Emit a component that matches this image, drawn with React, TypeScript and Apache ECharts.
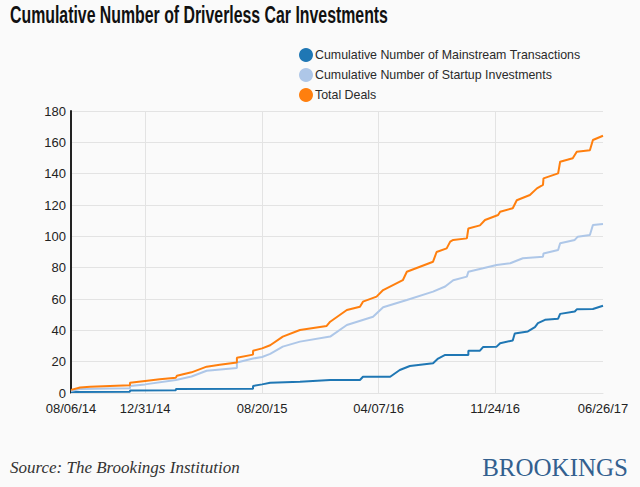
import React, { useEffect, useRef } from "react";
import * as echarts from "echarts";

const title = "Cumulative Number of Driverless Car Investments";
const seriesNames = [
  "Cumulative Number of Mainstream Transactions",
  "Cumulative Number of Startup Investments",
  "Total Deals",
];
const xTickDates = ["2014-08-06", "2014-12-31", "2015-08-20", "2016-04-07", "2016-11-24", "2017-06-26"];
const yTicks = { min: 0, max: 180, interval: 20 };

const mainstreamDates = [
  "2014-08-06", "2014-12-01", "2014-12-01", "2015-03-02", "2015-03-02", "2015-08-02", "2015-08-02",
  "2015-08-20", "2015-09-05", "2015-11-03", "2016-01-02", "2016-03-01", "2016-03-07", "2016-04-30",
  "2016-05-19", "2016-06-08", "2016-07-24", "2016-08-03", "2016-08-17", "2016-10-02", "2016-10-02",
  "2016-10-25", "2016-10-31", "2016-11-27", "2016-12-04", "2016-12-29", "2017-01-02", "2017-01-28",
  "2017-02-11", "2017-02-17", "2017-03-03", "2017-03-29", "2017-04-02", "2017-05-01", "2017-05-05",
  "2017-06-06", "2017-06-26",
];
const mainstreamValues = [
  0.6, 0.8, 1.6, 1.8, 2.5, 2.7, 4.5,
  5.5, 6.5, 7.2, 8.3, 8.3, 10.4, 10.4,
  14.7, 17.2, 19, 22, 24.3, 24.3, 27,
  27, 29.3, 29.6, 31.8, 33.5, 38, 39.3,
  42, 44.6, 46.7, 47.4, 50.5, 52, 53.4,
  53.6, 55.7,
];

const startupDates = [
  "2014-08-06", "2014-08-24", "2014-10-22", "2014-12-01", "2014-12-01", "2014-12-31", "2015-03-02",
  "2015-04-02", "2015-05-02", "2015-07-01", "2015-07-01", "2015-08-02", "2015-08-20", "2015-09-05",
  "2015-09-30", "2015-11-03", "2016-01-02", "2016-02-04", "2016-03-27", "2016-04-16", "2016-06-02",
  "2016-07-24", "2016-08-17", "2016-09-02", "2016-09-29", "2016-10-02", "2016-10-31", "2016-11-27",
  "2016-12-24", "2017-01-18", "2017-02-27", "2017-02-28", "2017-03-29", "2017-04-02", "2017-05-01",
  "2017-05-07", "2017-05-31", "2017-06-06", "2017-06-26",
];
const startupValues = [
  1.3, 2.5, 2.8, 3, 4.5, 5.5, 8.3,
  10.5, 14.2, 16, 19.5, 22, 23, 25,
  29.6, 32.8, 36, 43.4, 48.7, 54.7, 59.4,
  64.7, 68, 72, 74.3, 77.4, 79.6, 81.7,
  82.8, 86, 87, 89.1, 91.3, 95.6, 97.7,
  99.8, 100.9, 107.2, 107.9,
];

const totalDates = [
  "2014-08-06", "2014-08-24", "2014-09-13", "2014-10-22", "2014-12-01", "2014-12-01", "2014-12-31",
  "2015-01-29", "2015-03-02", "2015-03-04", "2015-04-02", "2015-05-02", "2015-05-28", "2015-07-01",
  "2015-07-01", "2015-08-02", "2015-08-02", "2015-08-20", "2015-09-05", "2015-09-30", "2015-11-03",
  "2015-12-26", "2016-01-02", "2016-02-04", "2016-03-01", "2016-03-07", "2016-04-03", "2016-04-16",
  "2016-05-25", "2016-06-02", "2016-06-28", "2016-07-24", "2016-07-31", "2016-08-20", "2016-08-27",
  "2016-09-02", "2016-09-29", "2016-10-02", "2016-10-25", "2016-11-04", "2016-11-30", "2016-12-04",
  "2016-12-29", "2017-01-06", "2017-02-01", "2017-02-15", "2017-02-27", "2017-02-28", "2017-03-29",
  "2017-04-02", "2017-04-27", "2017-05-05", "2017-05-31", "2017-06-06", "2017-06-26",
];
const totalValues = [
  2, 3.5, 4, 4.5, 5, 6.5, 7.7,
  8.8, 9.8, 11, 13.2, 16.8, 18, 19.5,
  22.5, 24.5, 27, 28.5, 30.5, 36, 40.2,
  42.8, 45.5, 53, 55, 58.3, 61.5, 65.7,
  72, 77.4, 80.6, 83.8, 90, 92.3, 96.6,
  97.7, 98.7, 105, 107, 110.4, 113.6, 115.7,
  117.9, 123, 126.4, 130.6, 132.8, 137, 140.2,
  147.6, 149.8, 154, 155, 161.5, 164.2,
];

const colors = ["#1f77b4", "#aec7e8", "#ff7f0e"];

const ts = (s: string) => {
  const [y, m, d] = s.split("-").map(Number);
  return new Date(y, m - 1, d).getTime();
};
const pad = (n: number) => (n < 10 ? "0" + n : "" + n);
const fmt = (v: number) => {
  const d = new Date(v);
  return pad(d.getMonth() + 1) + "/" + pad(d.getDate()) + "/" + pad(d.getFullYear() % 100);
};
const toPairs = (dates: string[], vals: number[]) => dates.map((d, i) => [ts(d), vals[i]]);

const TITLE_FONT = "bold 22px 'Liberation Sans', Arial, sans-serif";

export default function App() {
  const ref = useRef<HTMLDivElement>(null);
  useEffect(() => {
    document.body.style.margin = "0";
    const chart = echarts.init(ref.current!, null, { renderer: "svg" });
    const tickTs = xTickDates.map(ts);
    const seriesData = [
      toPairs(mainstreamDates, mainstreamValues),
      toPairs(startupDates, startupValues),
      toPairs(totalDates, totalValues),
    ];
    let titleScale = 0.78;
    try {
      const ctx = document.createElement("canvas").getContext("2d");
      if (ctx) {
        ctx.font = TITLE_FONT;
        const w = ctx.measureText(title).width;
        if (w > 0) titleScale = 378 / w;
      }
    } catch (e) {}
    chart.setOption({
      animation: false,
      backgroundColor: "#fafafa",
      color: colors,
      legend: {
        orient: "vertical",
        left: 299,
        top: 48,
        padding: 0,
        itemGap: 6,
        itemWidth: 14,
        itemHeight: 14,
        icon: "circle",
        textStyle: {
          fontFamily: "'Liberation Sans', Arial, sans-serif",
          fontSize: 12.4,
          color: "#2a2a2a",
          padding: [0, 0, 0, -3],
        },
        data: seriesNames,
      },
      grid: { left: 71, right: 37, top: 111, bottom: 94, outerBoundsMode: "none" },
      xAxis: {
        type: "value",
        min: tickTs[0],
        max: tickTs[tickTs.length - 1],
        axisLine: { show: true, lineStyle: { color: "#e3e3e3", width: 1 } },
        axisTick: { show: false, customValues: tickTs },
        axisLabel: {
          customValues: tickTs,
          formatter: (v: number) => fmt(v),
          fontFamily: "'Liberation Sans', Arial, sans-serif",
          fontSize: 13,
          color: "#222",
          margin: 9,
        },
        splitLine: { show: true, showMinLine: false, showMaxLine: false, lineStyle: { color: "#e3e3e3", width: 1 } },
      },
      yAxis: {
        type: "value",
        min: yTicks.min,
        max: yTicks.max,
        interval: yTicks.interval,
        axisLine: { show: true, lineStyle: { color: "#222", width: 2 } },
        axisTick: { show: false },
        axisLabel: {
          fontFamily: "'Liberation Sans', Arial, sans-serif",
          fontSize: 13,
          color: "#222",
          margin: 5,
        },
        splitLine: { show: true, lineStyle: { color: "#e3e3e3", width: 1 } },
      },
      series: seriesNames.map((name, i) => ({
        name,
        type: "line",
        data: seriesData[i],
        showSymbol: false,
        symbol: "circle",
        lineStyle: { width: 2, color: colors[i] },
        itemStyle: { color: colors[i] },
        z: 3 + i,
      })),
      graphic: [
        {
          type: "text",
          x: 10,
          y: 3,
          scaleX: titleScale,
          scaleY: 1.08,
          style: {
            text: title,
            font: TITLE_FONT,
            fill: "#111",
            verticalAlign: "top",
          },
        },
        {
          type: "text",
          left: 10,
          top: 459,
          style: {
            text: "Source: The Brookings Institution",
            font: "italic 17px 'Liberation Serif', 'DejaVu Serif', serif",
            fill: "#333",
          },
        },
        {
          type: "text",
          right: 12,
          top: 455,
          style: {
            text: "BROOKINGS",
            font: "25px 'Liberation Serif', 'DejaVu Serif', serif",
            fill: "#33608f",
          },
        },
      ],
    });
    return () => chart.dispose();
  }, []);
  return <div ref={ref} style={{ width: 640, height: 487 }} />;
}
